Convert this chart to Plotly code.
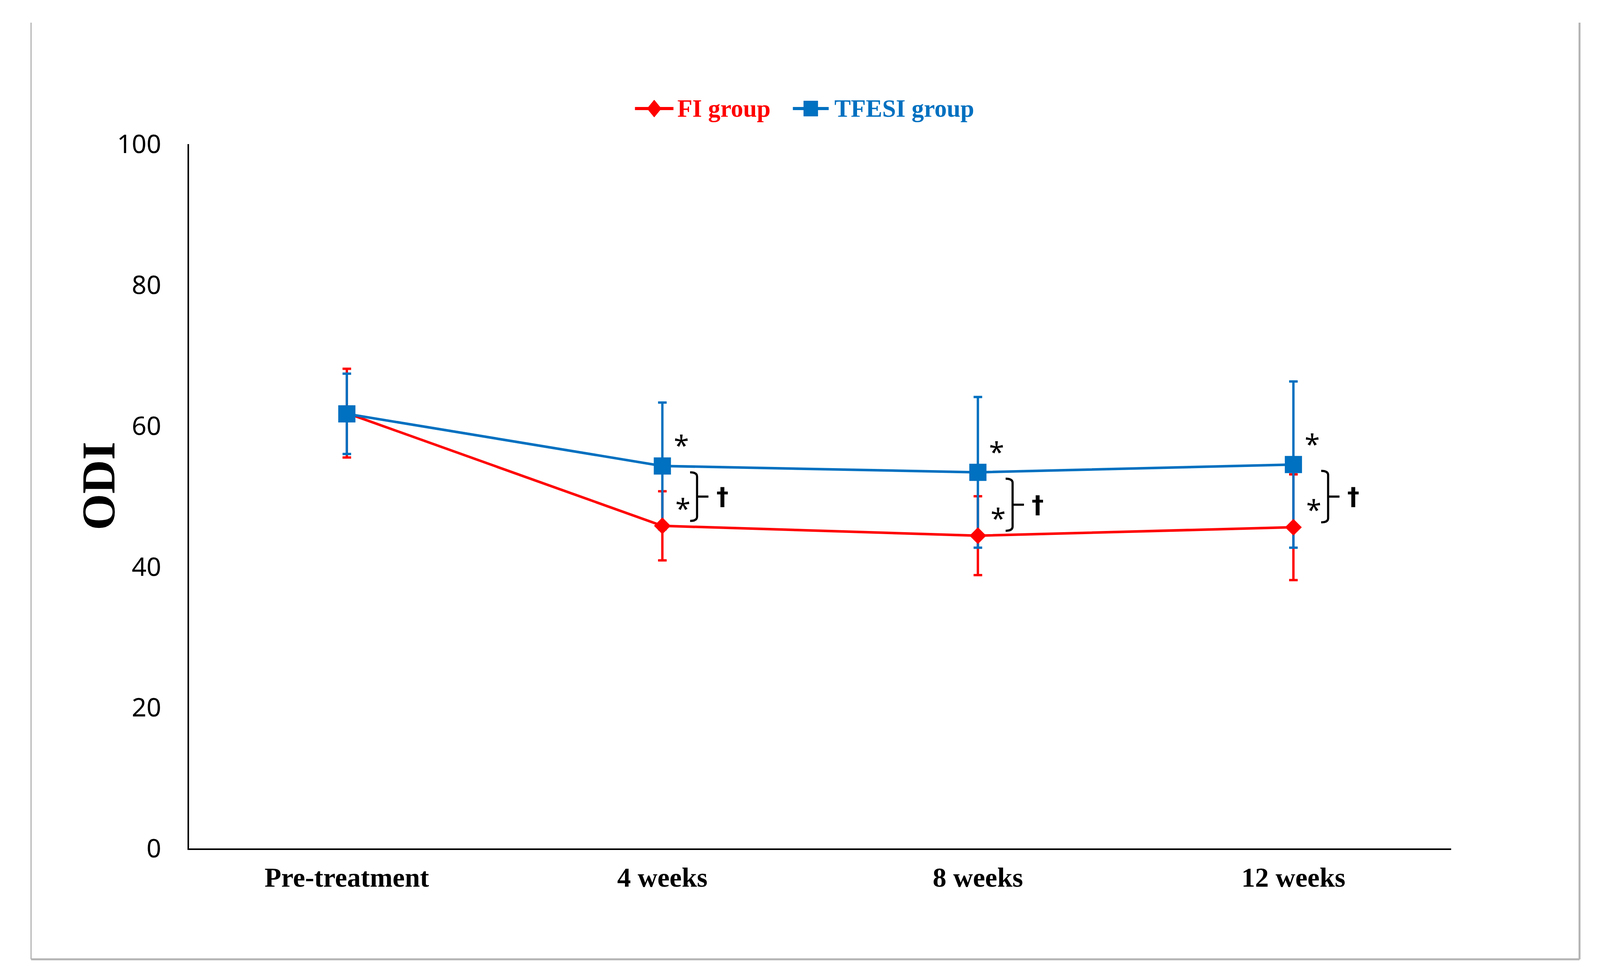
import plotly.graph_objects as go

# ---------------- data ----------------
categories = ["Pre-treatment", "4 weeks", "8 weeks", "12 weeks"]
fi_mean = [61.8, 45.8, 44.4, 45.6]
fi_sd = [6.3, 4.9, 5.6, 7.5]
tfesi_mean = [61.7, 54.3, 53.4, 54.5]
tfesi_sd = [5.7, 9.0, 10.7, 11.8]
y_ticks = [0, 20, 40, 60, 80, 100]
series_names = ["FI group", "TFESI group"]

RED = "#FF0000"
BLUE = "#0070C0"
x_idx = list(range(len(categories)))

fig = go.Figure()

# error bars (drawn below the markers)
fig.add_trace(go.Scatter(
    x=x_idx, y=fi_mean, mode="markers", showlegend=False, hoverinfo="skip",
    marker=dict(size=1, color="rgba(0,0,0,0)"),
    error_y=dict(type="data", array=fi_sd, color=RED, thickness=6, width=11),
))
fig.add_trace(go.Scatter(
    x=x_idx, y=tfesi_mean, mode="markers", showlegend=False, hoverinfo="skip",
    marker=dict(size=1, color="rgba(0,0,0,0)"),
    error_y=dict(type="data", array=tfesi_sd, color=BLUE, thickness=6, width=11),
))
# lines + markers
fig.add_trace(go.Scatter(
    x=x_idx, y=fi_mean, mode="lines+markers", name=series_names[0], showlegend=False,
    line=dict(color=RED, width=6.5),
    marker=dict(symbol="diamond", size=33, color=RED),
))
fig.add_trace(go.Scatter(
    x=x_idx, y=tfesi_mean, mode="lines+markers", name=series_names[1], showlegend=False,
    line=dict(color=BLUE, width=6.5),
    marker=dict(symbol="square", size=44, color=BLUE),
))

# ---------------- significance marks ----------------
annotations = []
shapes = []
for i in range(1, len(categories)):
    top = tfesi_mean[i] - 0.9
    bot = fi_mean[i] + 0.7
    mid = (top + bot) / 2
    xb = i + 0.11
    annotations.append(dict(x=i + 0.06, y=tfesi_mean[i] + 3.5, xref="x", yref="y",
                            text="*", showarrow=False, yshift=-9,
                            font=dict(family="Noto Sans", size=70, color="black")))
    annotations.append(dict(x=i + 0.065, y=fi_mean[i] + 3.0, xref="x", yref="y",
                            text="*", showarrow=False, yshift=-8,
                            font=dict(family="Noto Sans", size=70, color="black")))
    annotations.append(dict(x=i + 0.19, y=mid, xref="x", yref="y",
                            text="†", showarrow=False,
                            font=dict(family="DejaVu Sans", size=62, color="black", weight="bold")))
    shapes.append(dict(
        type="path", xref="x", yref="y",
        path=(f"M {xb - 0.022} {top} Q {xb} {top} {xb} {top - 0.6} "
              f"L {xb} {bot + 0.6} Q {xb} {bot} {xb - 0.022} {bot}"),
        line=dict(color="black", width=5.5),
    ))
    shapes.append(dict(type="line", xref="x", yref="y",
                       x0=xb, x1=xb + 0.036, y0=mid, y1=mid,
                       line=dict(color="black", width=5.5)))

# ---------------- legend (drawn manually for large symbols) ----------------
LEG_Y = 1.0504
leg_items = [
    dict(name=series_names[0], color=RED, x0=0.3533, x1=0.3838, xt=0.3863, sym="diamond"),
    dict(name=series_names[1], color=BLUE, x0=0.4784, x1=0.5068, xt=0.5108, sym="square"),
]
for it in leg_items:
    shapes.append(dict(type="line", xref="paper", yref="paper", x0=it["x0"], x1=it["x1"],
                       y0=LEG_Y, y1=LEG_Y, line=dict(color=it["color"], width=8)))
    cx = (it["x0"] + it["x1"]) / 2
    if it["sym"] == "diamond":
        hw, hh = 0.0056, 0.0122
        shapes.append(dict(type="path", xref="paper", yref="paper",
                           path=f"M {cx - hw} {LEG_Y} L {cx} {LEG_Y + hh} L {cx + hw} {LEG_Y} L {cx} {LEG_Y - hh} Z",
                           fillcolor=it["color"], line=dict(color=it["color"], width=1)))
    else:
        hw, hh = 0.0056, 0.0108
        shapes.append(dict(type="rect", xref="paper", yref="paper",
                           x0=cx - hw, x1=cx + hw, y0=LEG_Y - hh, y1=LEG_Y + hh,
                           fillcolor=it["color"], line=dict(color=it["color"], width=1)))
    annotations.append(dict(x=it["xt"], y=LEG_Y, xref="paper", yref="paper",
                            text=f"<b>{it['name']}</b>", showarrow=False,
                            xanchor="left", yanchor="middle",
                            font=dict(family="Liberation Serif", size=63, color=it["color"])))

# ---------------- frame (gray border lines) ----------------
GRAY = "#B4B4B4"
shapes += [
    dict(type="line", xref="paper", yref="paper", x0=-0.1252, x1=-0.1252, y0=-0.1574, y1=1.1724,
         line=dict(color=GRAY, width=3)),
    dict(type="line", xref="paper", yref="paper", x0=1.1017, x1=1.1017, y0=-0.1574, y1=1.1724,
         line=dict(color=GRAY, width=5)),
    dict(type="line", xref="paper", yref="paper", x0=-0.1252, x1=1.1017, y0=-0.1574, y1=-0.1574,
         line=dict(color=GRAY, width=5)),
]

# y-axis title
annotations.append(dict(x=-0.0715, y=0.515, xref="paper", yref="paper", text="<b>ODI</b>",
                        showarrow=False, textangle=-90, xanchor="center", yanchor="middle",
                        font=dict(family="Liberation Serif", size=120, color="black")))

fig.update_layout(
    width=4096, height=2510,
    margin=dict(l=484, r=381, t=369, b=337),
    paper_bgcolor="white", plot_bgcolor="white",
    showlegend=False,
    xaxis=dict(range=[-0.5, 3.5], tickmode="array", tickvals=x_idx, ticktext=categories,
               showgrid=False, zeroline=False, showline=True, linecolor="black", linewidth=4,
               ticks="", ticklabelstandoff=10,
               tickfont=dict(family="Liberation Serif", size=70, color="black", weight="bold")),
    yaxis=dict(range=[0, 100], tickmode="array", tickvals=y_ticks,
               showgrid=False, zeroline=False, showline=True, linecolor="black", linewidth=4,
               ticks="", ticklabelstandoff=54,
               tickfont=dict(family="Noto Sans", size=66, color="black")),
    annotations=annotations,
    shapes=shapes,
)

fig.write_html("out.html", config={"displayModeBar": False},
               post_script="document.body.style.margin='0';document.body.style.overflow='hidden';")
